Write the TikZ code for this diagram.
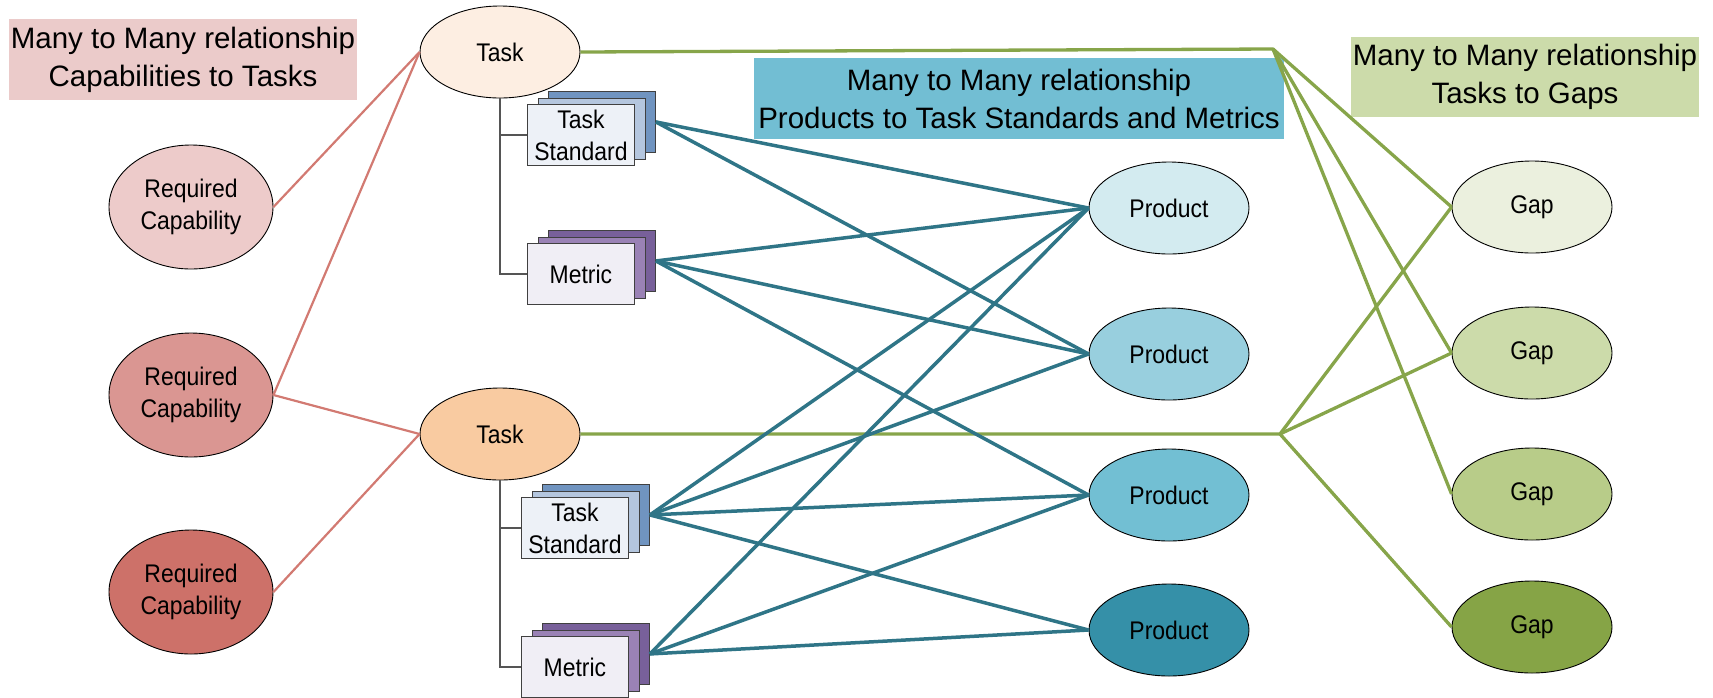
\documentclass[tikz,border=0pt]{standalone}
\usepackage{fontspec}
\setmainfont{Liberation Sans}
\newfontfamily\nodefont[FakeStretch=0.9]{Liberation Sans}
\usetikzlibrary{shapes.geometric}
\definecolor{pinkbox}{HTML}{EBCBCA}
\definecolor{capA}{HTML}{EDCBCA}
\definecolor{capB}{HTML}{DA9692}
\definecolor{capC}{HTML}{CD7169}
\definecolor{pinkline}{HTML}{D27A72}
\definecolor{taskA}{HTML}{FDEEE2}
\definecolor{taskB}{HTML}{F9CBA1}
\definecolor{tsfront}{HTML}{EDF1F7}
\definecolor{tsmid}{HTML}{B4C6DE}
\definecolor{tsback}{HTML}{7094C0}
\definecolor{mfront}{HTML}{F0EEF5}
\definecolor{mmid}{HTML}{9A82B5}
\definecolor{mback}{HTML}{78609A}
\definecolor{bluebox}{HTML}{72BED3}
\definecolor{prodA}{HTML}{D3EBF0}
\definecolor{prodB}{HTML}{98CFDE}
\definecolor{prodC}{HTML}{72BFD3}
\definecolor{prodD}{HTML}{3590A8}
\definecolor{tealline}{HTML}{2F7587}
\definecolor{greenbox}{HTML}{CCDBAA}
\definecolor{greenline}{HTML}{87A54A}
\definecolor{gapA}{HTML}{EBF0DE}
\definecolor{gapB}{HTML}{CCDBAA}
\definecolor{gapC}{HTML}{B8CC89}
\definecolor{gapD}{HTML}{86A446}
\definecolor{treegray}{HTML}{555555}
\begin{document}
\begin{tikzpicture}[x=1pt,y=-1pt,
  oval/.style={ellipse, draw=black, line width=0.9pt, minimum width=160pt, minimum height=92pt, inner sep=0pt, align=center, font=\nodefont\fontsize{25.5}{32}\selectfont},
  capoval/.style={oval, minimum width=164pt, minimum height=124pt},
  card/.style={rectangle, draw=black!75, line width=0.9pt, minimum width=107pt, minimum height=61pt, inner sep=0pt, anchor=north west, align=center, font=\nodefont\fontsize{25.5}{32}\selectfont},
  titlebox/.style={rectangle, inner sep=0pt, align=center, font=\fontsize{29.5}{38}\selectfont},
  pline/.style={draw=pinkline, line width=2.2pt},
  gline/.style={draw=greenline, line width=3.3pt},
  tline/.style={draw=tealline, line width=3.5pt},
  treeline/.style={draw=treegray, line width=1.5pt}]
\useasboundingbox (0,0) rectangle (1713,697);
% title boxes
\node[titlebox, fill=pinkbox, minimum width=348pt, minimum height=81pt] (tpink) at (183,59.5) {Many to Many relationship\\Capabilities to Tasks};
\node[titlebox, fill=bluebox, minimum width=530pt, minimum height=81pt] (tblue) at (1019,98.5) {Many to Many relationship\\Products to Task Standards and Metrics};
\node[titlebox, fill=greenbox, minimum width=348pt, minimum height=80pt] (tgreen) at (1525,77) {Many to Many relationship\\Tasks to Gaps};
% capabilities
\node[capoval, fill=capA] (c1) at (191,207) {Required\\Capability};
\node[capoval, fill=capB] (c2) at (191,395) {Required\\Capability};
\node[capoval, fill=capC] (c3) at (191,592) {Required\\Capability};
% tasks
\node[oval, fill=taskA] (t1) at (500,52) {Task};
\node[oval, fill=taskB] (t2) at (500,434) {Task};
% stacked cards
\node[card, fill=tsback] (ts1c) at (548,91) {};
\node[card, fill=tsmid] (ts1b) at (537.5,97.5) {};
\node[card, fill=tsfront] (ts1) at (527,104) {Task\\Standard};
\node[card, fill=mback] (m1c) at (548,230) {};
\node[card, fill=mmid] (m1b) at (537.5,236.5) {};
\node[card, fill=mfront] (m1) at (527,243) {Metric};
\node[card, fill=tsback] (ts2c) at (542,484) {};
\node[card, fill=tsmid] (ts2b) at (531.5,490.5) {};
\node[card, fill=tsfront] (ts2) at (521,497) {Task\\Standard};
\node[card, fill=mback] (m2c) at (542,623) {};
\node[card, fill=mmid] (m2b) at (531.5,629.5) {};
\node[card, fill=mfront] (m2) at (521,636) {Metric};
% products
\node[oval, fill=prodA] (p1) at (1169,208) {Product};
\node[oval, fill=prodB] (p2) at (1169,354) {Product};
\node[oval, fill=prodC] (p3) at (1169,495) {Product};
\node[oval, fill=prodD] (p4) at (1169,630) {Product};
% gaps
\node[oval, fill=gapA] (g1) at (1532,207) {Gap};
\node[oval, fill=gapB] (g2) at (1532,353) {Gap};
\node[oval, fill=gapC] (g3) at (1532,494) {Gap};
\node[oval, fill=gapD] (g4) at (1532,627) {Gap};
% junctions
\coordinate (j1) at (1273,49);
\coordinate (j2) at (1280,434);
% tree lines
\draw[treeline] (t1.south) |- (ts1.west);
\draw[treeline] (t1.south) |- (m1.west);
\draw[treeline] (t2.south) |- (ts2.west);
\draw[treeline] (t2.south) |- (m2.west);
% pink lines
\draw[pline] (c1.east) -- (t1.west);
\draw[pline] (c2.east) -- (t1.west);
\draw[pline] (c2.east) -- (t2.west);
\draw[pline] (c3.east) -- (t2.west);
% green lines
\draw[gline, line join=bevel] (t1.east) -- (j1) -- (g1.west);
\draw[gline] (j1) -- (g2.west);
\draw[gline] (j1) -- (g3.west);
\draw[gline, line join=bevel] (t2.east) -- (j2) -- (g1.west);
\draw[gline] (j2) -- (g2.west);
\draw[gline] (j2) -- (g4.west);
% teal lines
\draw[tline] (ts1c.east) -- (p1.west);
\draw[tline] (ts1c.east) -- (p2.west);
\draw[tline] (m1c.east) -- (p1.west);
\draw[tline] (m1c.east) -- (p2.west);
\draw[tline] (m1c.east) -- (p3.west);
\draw[tline] (ts2c.east) -- (p1.west);
\draw[tline] (ts2c.east) -- (p2.west);
\draw[tline] (ts2c.east) -- (p3.west);
\draw[tline] (ts2c.east) -- (p4.west);
\draw[tline] (m2c.east) -- (p1.west);
\draw[tline] (m2c.east) -- (p3.west);
\draw[tline] (m2c.east) -- (p4.west);
\end{tikzpicture}
\end{document}
